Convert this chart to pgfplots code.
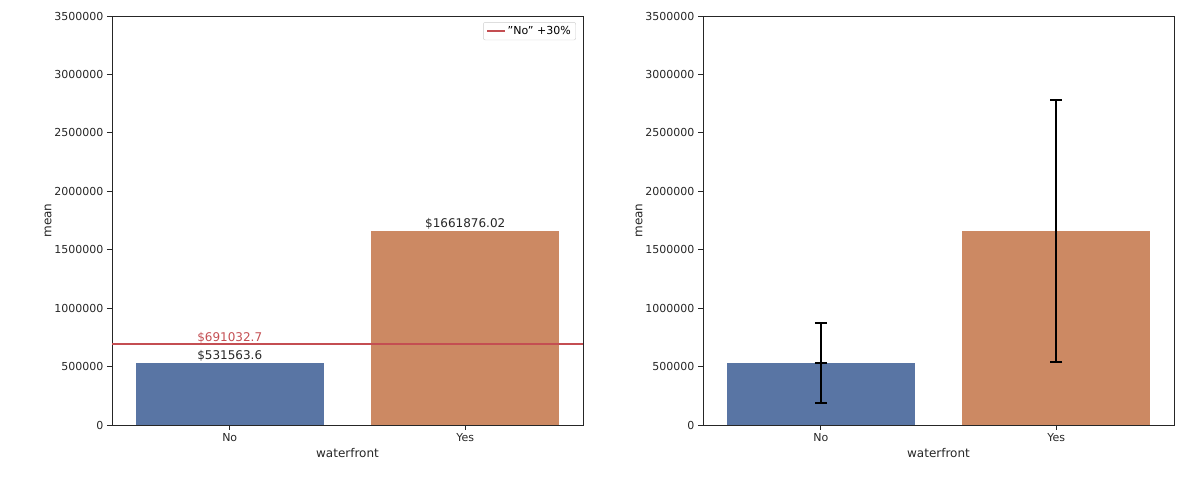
\documentclass[border=0pt]{standalone}
\usepackage{pgfplots}
\pgfplotsset{compat=1.18}
\usepackage{fontspec}
\setmainfont{DejaVu Sans}
\definecolor{bblue}{HTML}{5975A4}
\definecolor{borange}{HTML}{CC8963}
\definecolor{bred}{HTML}{C44E52}
\pgfplotsset{
  myax/.style={
    scale only axis, width=471pt, height=409pt,
    xmin=-0.5, xmax=1.5, ymin=0, ymax=3500000,
    xtick={0,1}, xticklabels={No,Yes},
    ytick={0,500000,1000000,1500000,2000000,2500000,3000000,3500000},
    scaled y ticks=false,
    /pgf/number format/fixed, /pgf/number format/1000 sep={},
    /pgf/number format/assume math mode=true,
    ticklabel style={font=\fontsize{11}{13}\selectfont, text=black!85},
    label style={font=\fontsize{12}{14}\selectfont, text=black!85},
    xlabel={waterfront}, ylabel={mean},
    axis line style={black!85, line width=0.9pt},
    tick style={black!85, line width=0.9pt},
    major tick length=5pt, tick align=outside,
    xtick pos=bottom, ytick pos=left,
    ylabel style={yshift=-4pt},
  }
}
\begin{document}
\begin{tikzpicture}
\path[use as bounding box] (-112pt,-59pt) rectangle (1071pt,425pt);
\begin{axis}[myax, at={(0,0)},
  legend style={at={(0.985,0.985)}, anchor=north east, font=\fontsize{11}{13}\selectfont, draw=black!20, rounded corners=2pt},
  legend cell align=left]
\addplot[ybar, bar width=0.8, fill=bblue, draw=none, forget plot] coordinates {(0,531563.6)};
\addplot[ybar, bar width=0.8, fill=borange, draw=none, forget plot] coordinates {(1,1661876.02)};
\addplot[bred, line width=2.2pt] coordinates {(-0.5,691032.7) (1.5,691032.7)};
\addlegendentry{"No" +30\%}
\node[anchor=south, font=\fontsize{12}{14}\selectfont, text=black!85, inner sep=1pt] at (axis cs:0,531563.6) {\$531563.6};
\node[anchor=south, font=\fontsize{12}{14}\selectfont, text=bred, inner sep=1pt] at (axis cs:0,691032.7) {\$691032.7};
\node[anchor=south, font=\fontsize{12}{14}\selectfont, text=black!85, inner sep=1pt] at (axis cs:1,1661876.02) {\$1661876.02};
\end{axis}
\begin{axis}[myax, at={(591pt,0)}]
\addplot[ybar, bar width=0.8, fill=bblue, draw=none] coordinates {(0,531563.6)};
\addplot[ybar, bar width=0.8, fill=borange, draw=none] coordinates {(1,1661876.02)};
\addplot[black, line width=1.6pt, draw=none, mark=none,
  error bars/.cd, y dir=both, y explicit, error mark options={rotate=90, mark size=6pt, line width=1.6pt},
  error bar style={line width=1.6pt}]
  coordinates {(0,531563.6) +- (0,0)};
\addplot[draw=none, mark=none,
  error bars/.cd, y dir=both, y explicit, error mark options={rotate=90, mark size=6pt, line width=1.6pt, black},
  error bar style={line width=1.6pt, black}]
  coordinates {(0,531563.6) += (0,341000) -= (0,344000) (1,1661876.02) += (0,1118000) -= (0,1123000)};
\end{axis}
\end{tikzpicture}
\end{document}
